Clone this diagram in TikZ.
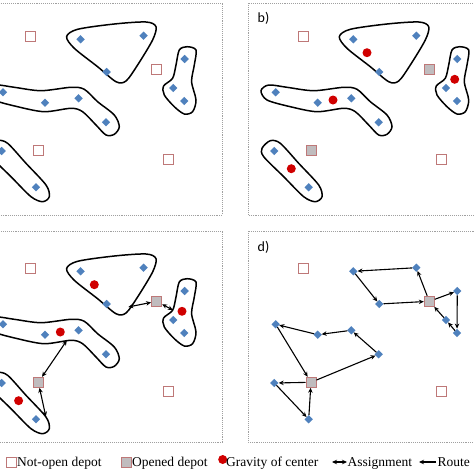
\documentclass[tikz,border=0pt]{standalone}
\usepackage{fontspec}
\setmainfont{Liberation Serif}
\newfontfamily\labelfont{Carlito}
\usetikzlibrary{shapes.geometric,arrows.meta}

\definecolor{custblue}{RGB}{79,129,189}
\definecolor{centerred}{RGB}{208,0,0}
\definecolor{depotred}{RGB}{190,120,120}
\definecolor{depotgray}{RGB}{192,188,190}
\definecolor{framegray}{RGB}{160,160,160}

\tikzset{
	defpicture/.style = {
		x = 1pt,
		y = -1pt,
		>= {Stealth[length=5pt, width=4.5pt]},
	},
	cust/.style = {
		diamond,
		fill = custblue,
		inner sep = 0pt,
		minimum size = 8.5pt
	},
	depot/.style = {
		rectangle,
		draw = depotred,
		line width = 1pt,
		fill = white,
		inner sep = 0pt,
		minimum size = 10pt
	},
	opened/.style = {
		depot,
		fill = depotgray
	},
	gravity/.style = {
		circle,
		fill = centerred,
		inner sep = 0pt,
		minimum size = 9pt
	},
	blob/.style = {
		draw,
		line width = 1.5pt
	},
	frame/.style = {
		draw = framegray,
		line width = 0.9pt,
		densely dotted
	},
	assign/.style = {
		draw,
		<->,
		line width = 1.1pt
	},
	route/.style = {
		draw,
		->,
		line width = 1.1pt
	},
	panellabel/.style = {
		anchor = base west,
		inner sep = 0pt,
		font = \labelfont\fontsize{14}{14}\selectfont
	},
	legendtext/.style = {
		anchor = base west,
		inner sep = 0pt,
		font = \fontsize{13.5}{14}\selectfont
	}
}

% the same customers, depots and clusters in every panel
\newcommand\customers{
	\foreach \n/\x/\y in {1/353.3/39.3, 2/416.3/35.7, 3/379.3/72,
			4/457.3/59, 5/446/88, 6/457/101,
			7/275.7/92.3, 8/317.7/102.7, 9/351.3/98.3, 10/378.7/122.3,
			11/274.3/151, 12/308.7/187.3}
		\node[cust] (c\n) at (\x,\y) {};
}
\newcommand\depots[1]{
	\node[depot] (dp1) at (303,36.7) {};
	\node[#1] (dp2) at (429.3,69.3) {};
	\node[#1] (dp3) at (311,150.3) {};
	\node[depot] (dp4) at (441.3,159.3) {};
}
\newcommand\centers{
	\node[gravity] (g1) at (367,52.7) {};
	\node[gravity] (g2) at (454.7,79.3) {};
	\node[gravity] (g3) at (333,100) {};
	\node[gravity] (g4) at (291.3,168.7) {};
}
\newcommand\clusters{
	\path[blob] plot[smooth cycle] coordinates {(339.3,36.7) (350.3,29.3) (387,24)
		(418.7,22) (428.7,26.7) (425.3,40) (410.3,65) (398.7,81) (388.7,81.7)
		(370.3,66.7) (347,48.3)};
	\path[blob] plot[smooth cycle] coordinates {(452,50) (459.7,46.7) (468.7,50)
		(467,65) (464.3,81.7) (468.7,100) (465.3,111.7) (457,114) (447,106.7)
		(437,95) (436.3,86) (445.3,78.3) (448.7,65)};
	\path[blob] plot[smooth cycle] coordinates {(261,90.7) (268.7,85) (287,87.3)
		(313.7,90.7) (343.7,87.3) (357,89.3) (370.3,101.7) (387,115) (392,126.7)
		(387,134.3) (378.7,135) (368.7,125) (355.3,111.7) (343.7,108.3)
		(317,111.7) (290.3,106.7) (267,100)};
	\path[blob] plot[smooth cycle] coordinates {(262,148.3) (270.3,140.7)
		(280.3,143.3) (298.7,163.3) (318.7,185) (322,196.7) (315.3,201.7)
		(303.7,196.7) (283.7,176.7) (263.7,156.7)};
}

\begin{document}
\begin{tikzpicture}[defpicture]
	\useasboundingbox (0,0) rectangle (474,474);

	% a) clusters only
	\begin{scope}[shift = {(-272.7,0)}, name prefix = a-]
		\path[frame] (248,3) rectangle (495,215);
		\node[panellabel] (lab) at (257.5,22.5) {a)};
		\clusters
		\customers
		\depots{depot}
	\end{scope}

	% b) centers and opened depots
	\begin{scope}[name prefix = b-]
		\path[frame] (248,3) rectangle (495,215);
		\node[panellabel] (lab) at (257.5,22.5) {b)};
		\clusters
		\customers
		\depots{opened}
		\centers
	\end{scope}

	% c) assignment
	\begin{scope}[shift = {(-272.7,232)}, name prefix = c-]
		\path[frame] (248,-1) rectangle (495,210);
		\node[panellabel] (lab) at (257.5,19.5) {c)};
		\clusters
		\customers
		\depots{opened}
		\centers
		\coordinate (t1) at (401,75);
		\coordinate (t2) at (445.5,78);
		\coordinate (t3) at (339.5,108.5);
		\coordinate (t4) at (318.5,184.5);
		\begin{scope}[every path/.style = assign]
			\path (dp2) -- (t1);
			\path (dp2) -- (t2);
			\path (dp3) -- (t3);
			\path (dp3) -- (t4);
		\end{scope}
	\end{scope}

	% d) routes
	\begin{scope}[shift = {(0,232)}, name prefix = d-]
		\path[frame] (248,-1) rectangle (495,210);
		\node[panellabel] (lab) at (257.5,19.5) {d)};
		\customers
		\depots{opened}
		\begin{scope}[every path/.style = route]
			\path (dp2) -- (c2);
			\path (c2) -- (c1);
			\path (c1) -- (c3);
			\path (c3) -- (dp2);
			\path (dp2) -- (c4);
			\path (c4) -- (c6);
			\path (c6) -- (c5);
			\path (c5) -- (dp2);

			\path (dp3) -- (c10);
			\path (c10) -- (c9);
			\path (c9) -- (c8);
			\path (c8) -- (c7);
			\path (c7) -- (dp3);
			\path (dp3) -- (c11);
			\path (c11) -- (c12);
			\path (c12) -- (dp3);
		\end{scope}
	\end{scope}

	% legend
	\node[depot] (lg1) at (11,462) {};
	\node[legendtext] (lt1) at (17,466) {Not-open depot};
	\node[opened] (lg2) at (126,462) {};
	\node[legendtext] (lt2) at (132,466) {Opened depot};
	\node[gravity] (lg3) at (222.7,459.5) {};
	\node[legendtext] (lt3) at (226,466) {Gravity of center};
	\coordinate (la1) at (332,462);
	\coordinate (la2) at (347,462);
	\path[assign] (la1) -- (la2);
	\node[legendtext] (lt4) at (347.5,466) {Assignment};
	\coordinate (lr1) at (419,462);
	\coordinate (lr2) at (436,462);
	\path[route] (lr2) -- (lr1);
	\node[legendtext] (lt5) at (437.5,466) {Route};
\end{tikzpicture}
\end{document}
